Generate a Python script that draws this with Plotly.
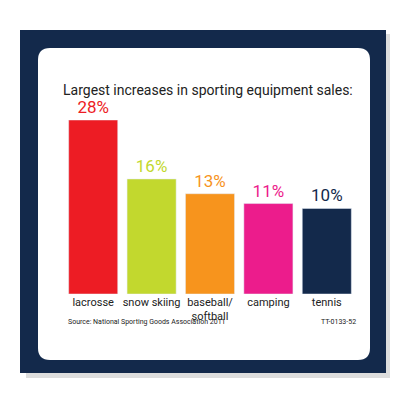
import plotly.graph_objects as go

categories = ["lacrosse", "snow skiing", "baseball/<br>softball", "camping", "tennis"]
values = [28, 16, 13, 11, 10]
labels = ["28%", "16%", "13%", "11%", "10%"]
colors = ["#ED1C24", "#C2D82E", "#F7941D", "#EC1C8C", "#13294B"]
axis_floor = -7.4  # the original bars don't start at zero

font = "Liberation Sans Narrow, Roboto, sans-serif"

fig = go.Figure(go.Bar(
    x=categories, y=[v - axis_floor for v in values], base=axis_floor,
    marker_color=colors, text=labels, textposition="outside",
    textfont=dict(color=colors, size=17, family=font), cliponaxis=False,
    hoverinfo="skip",
))

def rounded(x0, y0, x1, y1, r):
    return (f"M{x0+r},{y0} L{x1-r},{y0} Q{x1},{y0} {x1},{y0+r} L{x1},{y1-r} "
            f"Q{x1},{y1} {x1-r},{y1} L{x0+r},{y1} Q{x0},{y1} {x0},{y1-r} "
            f"L{x0},{y0+r} Q{x0},{y0} {x0+r},{y0} Z")

shapes = [
    dict(type="rect", xref="paper", yref="paper", x0=0.045, x1=0.955, y0=0.075, y1=0.935,
         fillcolor="#BBBBBB", line_width=0, layer="below", opacity=0.5),
    dict(type="rect", xref="paper", yref="paper", x0=0.03, x1=0.945, y0=0.0875, y1=0.945,
         fillcolor="#13294B", line_width=0, layer="below"),
    dict(type="path", xref="paper", yref="paper",
         path=rounded(0.075, 0.12, 0.905, 0.9, 0.03),
         fillcolor="white", line_width=0, layer="below"),
]

fig.update_layout(
    width=400, height=400, margin=dict(l=0, r=0, t=0, b=0),
    paper_bgcolor="white", plot_bgcolor="rgba(0,0,0,0)",
    font=dict(family=font, color="#222"),
    showlegend=False, bargap=0.16, shapes=shapes, uniformtext=dict(minsize=8),
    xaxis=dict(domain=[0.14, 0.87], showgrid=False, showline=False, ticks="",
               tickangle=0, tickfont=dict(size=11, color="#222"), fixedrange=True),
    yaxis=dict(domain=[0.285, 0.72], range=[axis_floor, 28], visible=False, fixedrange=True),
    annotations=[
        dict(text="Largest increases in sporting equipment sales:", xref="paper", yref="paper",
             x=0.5, y=0.82, showarrow=False, font=dict(size=14, color="#222")),
        dict(text="Source: National Sporting Goods Association 2011", xref="paper", yref="paper",
             x=0.145, y=0.2, xanchor="left", showarrow=False, font=dict(size=7, color="#222")),
        dict(text="TT-0133-52", xref="paper", yref="paper",
             x=0.875, y=0.2, xanchor="right", showarrow=False, font=dict(size=7, color="#222")),
    ],
)

fig.write_html("out.html")
